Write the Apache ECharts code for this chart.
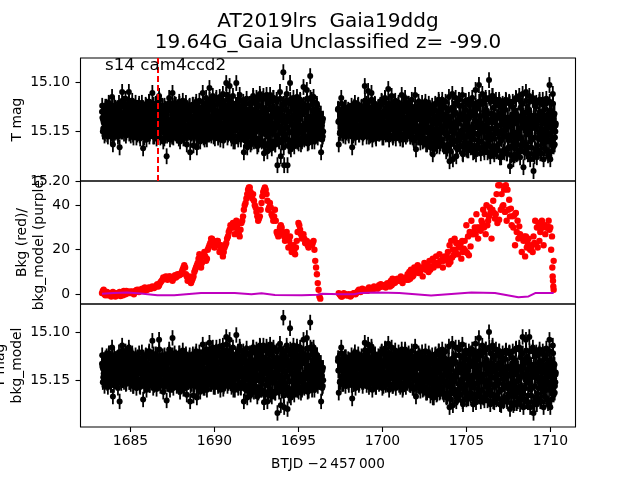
<!DOCTYPE html>
<html><head><meta charset="utf-8">
<style>html,body{margin:0;padding:0;background:#fff}#c{width:640px;height:480px}</style>
<script src="https://cdn.jsdelivr.net/npm/echarts@6/dist/echarts.min.js"></script>
</head><body><div id="c"></div>
<script>
// cadence of the light curves (days)
const orbit1Start = 1683.3, orbit2Start = 1697.35, magStep = 0.05;
// T mag, thousandths above 15
const tmag1 = [130,150,141,154,125,147,135,155,121,143,133,152,115,163,130,142,126,148,136,155,128,166,141,150,110,147,124,136,117,151,130,142,110,149,124,137,119,153,131,143,121,156,135,146,124,154,133,147,126,167,140,153,123,158,135,147,120,152,132,142,111,155,128,141,122,157,134,146,114,150,127,139,124,160,136,148,127,175,138,151,116,158,129,143,111,156,126,140,123,154,134,146,120,160,131,149,124,157,137,147,121,163,133,150,125,171,138,152,123,164,136,149,126,166,140,154,119,160,132,146,111,156,127,141,116,158,130,144,106,152,122,137,114,155,128,142,118,150,130,141,122,158,135,147,112,154,127,141,101,148,118,133,104,151,121,138,114,147,127,139,101,146,118,133,113,155,127,142,123,171,136,153,128,166,140,154,122,163,134,150,114,160,128,146,116,165,130,148,112,158,125,142,117,172,132,153,113,170,128,150,120,163,134,148,116,160,130,146,118,184,135,160,110,175,128,152,90,184,122,158,112,184,130,165,101,168,122,150,116,165,130,148,120,160,133,146,118,163,132,150,105,158,124,142,108,162,126,146,94,155,118,138,115,160,131,146,122,156,135,146,134,171,144,155];
const tmag2 = [128,163,138,150,116,152,130,142,128,155,136,148,130,154,139,147,132,166,141,152,127,156,136,146,124,153,134,145,126,150,135,143,104,149,122,135,109,155,126,140,111,158,128,142,122,155,133,145,126,152,136,146,119,156,130,144,116,153,128,141,107,158,124,140,114,154,127,142,120,157,132,146,123,153,134,145,113,158,129,143,116,155,130,144,122,152,133,146,118,156,131,143,113,168,130,150,120,155,133,146,126,160,137,150,124,163,136,151,128,158,139,149,130,173,141,157,122,160,135,148,118,165,131,150,122,163,134,151,126,170,140,155,128,180,145,162,126,178,143,160,122,175,139,158,118,165,133,150,124,173,138,156,120,168,135,152,118,162,132,148,116,171,134,152,108,165,127,146,103,160,122,142,112,166,130,150,116,163,132,148,98,158,120,140,114,170,133,152,122,165,136,150,118,176,137,158,125,170,140,155,118,172,136,156,120,185,141,165,125,178,142,160,116,173,134,155,114,176,135,158,112,186,136,162,110,170,130,150,114,178,134,158,118,190,140,168,122,176,138,157,120,172,136,154,118,178,138,160,122,170,137,152,103,178,130,158,112,165,132,150];
// T mag minus bkg_model, thousandths above 15
const cmag1 = [133,152,143,156,128,150,137,157,124,146,135,155,116,167,132,145,128,151,138,158,130,172,143,153,114,150,127,139,120,153,132,145,116,152,127,140,122,156,134,146,124,158,137,149,127,156,136,150,128,170,142,155,125,160,138,150,122,155,135,145,109,158,130,143,124,159,136,148,108,153,129,142,126,162,139,150,129,171,141,153,118,160,132,146,106,158,128,143,126,156,137,148,122,162,134,151,126,159,139,149,123,165,135,152,127,172,140,154,125,166,138,151,128,168,142,156,121,162,134,148,113,158,129,143,118,160,132,146,111,154,125,139,116,157,130,144,120,152,132,143,124,160,137,149,114,156,129,143,105,150,120,135,108,153,123,140,116,149,129,141,103,148,120,135,115,157,129,144,125,172,138,155,130,168,142,156,124,165,136,152,116,162,130,148,118,167,132,150,114,160,127,144,119,173,134,155,115,172,130,152,122,165,136,150,118,162,132,148,120,184,137,162,112,176,130,154,85,178,124,160,114,180,132,166,96,168,124,151,114,165,130,148,118,160,131,146,116,163,130,150,108,158,124,142,106,162,126,146,90,155,118,138,116,160,131,146,124,156,135,146,136,172,145,156];
const cmag2 = [130,163,140,152,116,154,132,144,130,156,138,150,132,155,141,149,134,169,143,154,129,158,138,148,126,155,136,147,128,152,137,145,111,151,124,137,113,157,128,142,115,160,130,144,124,157,135,147,128,154,138,148,121,158,132,146,118,155,130,143,112,160,126,142,116,156,129,144,122,158,134,148,125,155,136,147,118,160,131,145,118,157,132,146,124,154,135,148,120,158,133,145,115,167,132,152,122,157,135,148,128,160,139,151,126,163,138,152,130,160,141,150,132,168,143,157,124,160,137,150,120,163,133,151,124,162,136,152,128,167,142,156,130,178,147,164,128,176,145,162,124,172,141,160,116,165,135,152,126,175,140,158,122,170,137,154,120,164,134,150,118,175,136,154,112,167,129,148,106,162,124,144,114,168,132,152,118,165,134,150,100,160,122,142,116,172,135,154,124,166,138,152,120,175,139,160,127,172,142,157,120,170,138,158,122,180,143,164,127,176,144,160,118,174,136,157,116,175,137,160,105,178,132,158,108,172,130,152,105,178,134,158,120,184,142,168,124,175,140,158,122,172,138,155,120,178,140,160,124,170,139,154,108,178,132,158,114,165,134,152];
// further samples inside the dense body of the curve, half a step later, both magnitude panels
const bodyMag1 = [136,147,129,152,141,125,149,133,144,127,155,138,131,146,124,151,135,143,128,153,139,126,148,134,150,122,142,130,154,137,145,127,152,132,147,124,140,156,129,144,135,151,126,143,133,157,140,121,149,130,146,138,153,125,142,134,155,128,147,136,150,123,144,131,152,139,127,148,135,156,129,143,137,151,124,146,133,154,128,141,149,126,138,155,131,145,122,152,136,143,129,157,134,147,125,141,150,132,144,127,153,138,130,148,124,156,135,142,128,151,139,123,146,133,158,129,144,137,152,126,141,149,131,155,122,145,136,153,128,142,150,125,147,134,157,130,143,138,154,121,148,132,145,127,159,136,151,124,141,156,129,147,134,153,126,143,160,131,149,123,138,155,128,146,135,158,125,142,152,130,148,122,144,161,133,150,127,141,156,120,137,153,129,147,135,162,124,145,158,131,151,126,140,164,128,149,133,155,122,143,160,136,152,125,147,130,163,138,154,127,145,159,132,150,123,141,166,135,153,128,146,158,130,151,121,143,162,134,155,126,148,138,160,129,152,124,144,157,133,150,127,142,155,131,148,124,140,153,135,146,129,151,133,144,138,149,128,146,135,152,132,147,140,150];
const bodyMag2 = [140,128,151,134,146,131,154,137,143,126,149,135,152,129,145,138,155,132,147,125,142,150,133,146,127,153,136,144,130,156,139,124,148,134,151,128,143,137,154,131,146,126,150,140,133,157,129,145,136,152,123,147,138,155,130,142,149,127,144,134,153,132,148,125,140,156,135,146,129,151,137,143,126,154,133,147,131,158,139,124,149,136,153,128,144,141,155,130,147,134,159,127,150,138,145,132,156,125,148,135,152,140,129,157,143,133,160,137,151,126,146,154,131,162,139,128,149,165,135,155,142,130,158,147,125,163,138,152,133,168,144,129,156,140,170,135,150,127,160,146,131,166,141,154,124,158,137,149,172,133,145,161,128,155,142,169,136,151,122,164,147,130,158,139,173,126,153,143,167,134,149,160,120,145,171,137,156,129,163,141,152,175,132,147,165,126,157,140,170,135,150,124,162,144,176,130,154,139,168,128,148,172,136,159,122,145,166,133,155,142,174,129,151,163,138,147,169,126,157,135,161,144,171,131,153,140,166,128,150,160,137,146,173,134,156,125,143,164,139,152,130,158,147,136,162,128,151,141,155,133,146,160,129,152,138,164,134,148,156,142];
// samples that fill out the upper and lower edges of the body, quarter of a step later
const edgeMag1 = [124,138,150,133,127,142,153,136,122,131,148,140,126,144,155,134,128,137,151,141,121,133,149,145,119,139,152,130,123,143,147,136,120,134,154,141,125,146,150,132,127,138,153,143,122,135,149,129,129,141,156,137,124,132,151,145,120,140,148,134,126,143,155,136,123,131,152,139,118,144,150,135,125,137,157,142,128,133,148,146,121,140,153,130,124,136,151,143,127,145,154,134,122,139,149,131,119,142,156,137,125,133,152,144,129,138,150,140,123,146,155,132,120,135,148,141,126,143,153,137,121,130,158,145,124,139,151,134,118,144,154,136,122,132,149,140,116,137,156,143,115,141,152,130,119,135,150,145,113,133,153,139,120,146,157,136,127,142,160,131,125,137,158,144,118,134,152,140,120,146,159,133,117,138,155,143,122,131,161,147,116,141,157,135,121,145,163,138,115,136,160,148,114,143,165,131,118,139,162,146,113,135,167,142,116,148,163,133,120,140,158,145,117,132,161,137,122,147,156,141,119,134,164,139,118,137,159,143,121,146,157,133,115,140,162,135,119,131,160,148,123,144,156,138,117,136,161,142,116,144,160,136,120,133,155,142,124,138,152,146,132,141,158,137];
const edgeMag2 = [127,140,152,134,122,137,149,143,126,133,151,139,128,145,148,131,124,141,154,136,121,132,150,144,123,138,147,135,125,143,152,130,119,136,155,142,120,131,150,146,118,139,153,134,123,144,149,137,125,133,151,141,120,147,156,132,117,135,152,143,122,140,148,137,124,131,154,145,119,138,150,134,121,143,157,140,123,136,153,130,120,146,151,142,122,133,155,138,125,141,158,135,127,147,156,132,124,137,161,143,121,134,159,148,120,145,163,139,122,131,166,152,124,142,168,136,123,148,164,133,120,138,162,150,118,135,165,144,120,152,167,137,115,141,163,147,112,133,160,150,116,146,168,139,118,137,165,153,113,149,162,135,119,142,169,145,123,131,166,154,121,147,170,138,124,140,164,152,120,135,172,146,122,150,168,133,118,143,171,139,116,155,166,137,114,136,173,148,118,144,169,152,120,133,175,141,122,149,171,137,119,146,168,154,121,138,174,143,120,151,167,134,117,141,172,150,118,147,165,136,122,134,170,149,119,145,173,138,120,152,166,142,116,136,175,147,121,143,169,133,118,150,172,140,123,137,167,153,117,146,174,135,120,141,170,148,122,133,163,144];
const magError = 0.008;
// background flux, one point every 0.1 day, two interleaved sets
const bkgStep = 0.1, bkg1Start = 1683.3, bkg2Start = 1697.4, bkgFill1Start = 1683.35, bkgFill2Start = 1697.45;
const bkg1 = [0.5,2,-0.5,1,0,-0.5,0.5,0,-1,0.5,0,-0.8,1,1.5,0,1,0.5,0.5,1.2,0,1.5,2,1,1.8,2.5,1.5,2.5,2,3,2.5,3.5,2.8,3.5,4.5,4,5.5,6.5,7,8,6.5,8,7,6,8,7.5,9,8.5,9,11,13,9,6,8,5,7,10,12,14,18,12,17,19,15,20,22,25,24,21,23,24,19,22,17,21,23,26,29,30,32,27,33,28,26,32,35,40,43,47,48,44,45,40,37,33,35,41,46,48,45,38,41,36,33,38,28,26,30,30,27,24,28,21,26,19,22,18,24,32,29,25,27,23,24,21,23,22,24,15,9,2,-2];
const bkg2 = [0.5,-0.5,-1,0.5,0,-0.5,0,-1,0,0.5,0,1,2,1,2.5,1.5,2,1.5,3,2.5,2,3.5,3,2.5,4,4.5,3.5,4,3,5,4.5,6,7,5.5,6.5,7,6,8,5,7,7.5,9,10,11,8,12,11,13,10,12,8,14,11,13,15,12,16,14,17,13,18,15,12,17,16,19,22,24,20,25,23,18,21,16,19,24,31,26,28,33,27,30,36,25,29,33,38,36,40,33,39,25,42,34,45,49,49,45,40,37,33,38,35,31,30,22,28,25,27,19,24,17,21,25,20,22,26,33,30,32,28,33,22,27,30,33,30,26,15];
const bkgFill1 = [1.5,0,1,-0.5,0.5,-1,1,0.5,-0.5,0,1,0.5,-0.5,0.8,1.5,0.5,1.2,1,0.5,1,1.8,1.2,2,1.5,2.2,3,2,2.8,2.5,3,3,3.2,4,3.5,5,6,7.5,7,7.8,7,8,7,7,8.5,8,8.5,9,10,12,12,8,7,6,6,8,11,13,16,15,14,18,17,16,21,23,25,23,22,24,22,20,20,19,22,25,28,31,31,30,30,31,27,29,33,38,41,45,48,46,43,42,39,35,34,38,44,47,47,42,39,39,35,35,33,27,28,31,28,26,26,25,24,22,21,20,21,28,31,27,26,25,23,22,22,23,23,20,12,5,-1];
const bkgFill2 = [0,-1,0,0,-0.5,-0.5,-0.5,-0.5,0.2,0.5,0.5,1.5,1.5,1.8,2,1.8,1.8,2.2,2.8,2.2,2.2,2.8,3.2,2.8,3.2,4.2,3.8,3.5,4.5,4,3.5,4,4.8,5.2,6.5,6.2,6,6.8,6.5,7,6.5,6.5,7,8,8.5,10,10.5,9.5,10,11.5,12,11.5,11,10,11,12.5,12,14,13.5,14,15,15.5,15,15.5,16.5,13.5,14.5,16.5,17.5,20,23,22,22.5,24,20.5,19.5,18.5,17.5,21.5,27,28,27,30,30,28.5,32,30,27,31,35,37,38,36.5,36,32,33.5,38,39.5,47,49,47,42.5,38.5,35,35.5,36.5,33,30.5,26,25,26,26,23,21.5,20.5,19,23,22.5,21,24,29.5,31.5,31,30,30.5,29,20];
const bkgTail = [[1710.12,12],[1710.14,8],[1710.16,6],[1710.18,3.5],[1710.2,2]];
// bkg_model knots [BTJD, value]
const modelCurve = [[1683.3,0.2],[1684,0.5],[1684.8,0.8],[1685.6,0.3],[1686.6,-0.5],[1687.6,-0.5],[1689.2,0.5],[1691.2,0.5],[1692.2,0],[1692.8,0.4],[1693.6,-0.4],[1695.2,-0.5],[1696.2,-0.2],[1696.4,0.2],[1697.5,0],[1698.3,0],[1698.7,0.6],[1699.7,0.8],[1701,0.6],[1702.9,-0.6],[1703.5,-0.2],[1705.3,0.8],[1706.7,0.5],[1708.1,-1.4],[1708.7,-1],[1709.1,0.5],[1710.2,0.5]];
const xTicks = [1685,1690,1695,1700,1705,1710];
const topTicks = [15.10,15.15,15.20], midTicks = [0,20,40], botTicks = [15.10,15.15];
const markerDate = 1686.6;
const title = "AT2019lrs  Gaia19ddg\n19.64G_Gaia Unclassified z= -99.0";
const tag = "s14 cam4ccd2";

const FONT = "DejaVu Sans", TXT = "#000";
function pts(arr, start, step, conv){ return arr.map((v,i)=>[+(start+i*step).toFixed(4), conv?conv(v):v]); }
const milli = v => 15 + v/1000;
const body = pts(bodyMag1,orbit1Start+magStep/2,magStep,milli).concat(pts(bodyMag2,orbit2Start+magStep/2,magStep,milli)).concat(pts(edgeMag1,orbit1Start+magStep/4,magStep,milli)).concat(pts(edgeMag2,orbit2Start+magStep/4,magStep,milli));
const topData = pts(tmag1,orbit1Start,magStep,milli).concat(pts(tmag2,orbit2Start,magStep,milli)).concat(body);
const botData = pts(cmag1,orbit1Start,magStep,milli).concat(pts(cmag2,orbit2Start,magStep,milli)).concat(body);
const bkgData = pts(bkg1,bkg1Start,bkgStep).concat(pts(bkg2,bkg2Start,bkgStep)).concat(pts(bkgFill1,bkgFill1Start,bkgStep)).concat(pts(bkgFill2,bkgFill2Start,bkgStep)).concat(bkgTail);

function errRender(params, api){
  const x = api.value(0), y = api.value(1);
  const a = api.coord([x, y-magError]), b = api.coord([x, y+magError]);
  return {type:'line', shape:{x1:a[0],y1:a[1],x2:b[0],y2:b[1]}, style:{stroke:'#000',lineWidth:1.8}, silent:true};
}
const gridBase = {left:80.5, width:495, height:123, show:true, borderColor:'#000', borderWidth:1.1, backgroundColor:'transparent', containLabel:false, outerBoundsMode:'none'};
function xAx(i, labels){
  return {type:'value', gridIndex:i, min:1682.02, max:1711.5, splitLine:{show:false}, axisLine:{show:false},
    axisTick:{show:labels, customValues:xTicks, length:5, lineStyle:{color:'#000',width:1.1}},
    axisLabel:{show:labels, customValues:xTicks, margin:7, color:TXT, fontFamily:FONT, fontSize:13.9, formatter:v=>String(v)},
    name:labels?"BTJD \u22122\u2009457\u2009000":"", nameLocation:'middle', nameGap:30, nameMoveOverlap:false,
    nameTextStyle:{color:TXT,fontFamily:FONT,fontSize:13.6}};
}
function yAx(i, o){
  return {type:'value', gridIndex:i, min:o.min, max:o.max, inverse:o.inv, splitLine:{show:false}, axisLine:{show:false},
    axisTick:{show:true, customValues:o.ticks, length:5, lineStyle:{color:'#000',width:1.1}},
    axisLabel:{show:true, customValues:o.ticks, margin:10.5, color:TXT, fontFamily:FONT, fontSize:13.9, showMinLabel:true, showMaxLabel:true, formatter:o.fmt},
    name:o.name, nameLocation:'middle', nameGap:o.gap, nameRotate:90, nameMoveOverlap:false,
    nameTextStyle:{color:TXT,fontFamily:FONT,fontSize:13.9,lineHeight:16.5}};
}
const f2 = v=>v.toFixed(2), f0 = v=>String(v);
const chart = echarts.init(document.getElementById('c'),null,{renderer:'canvas'});
const solidBlack = {color:'#000',opacity:1}, solidRed = {color:'#f00',opacity:1};
chart.setOption({
  animation:false, backgroundColor:'#fff',
  title:{text:title,left:323,top:6,textAlign:'center',textStyle:{color:TXT,fontFamily:FONT,fontSize:20,fontWeight:'normal',lineHeight:21.5}},
  grid:[Object.assign({top:58},gridBase),Object.assign({top:181},gridBase),Object.assign({top:304},gridBase)],
  xAxis:[xAx(0,false),xAx(1,false),xAx(2,true)],
  yAxis:[
    yAx(0,{min:15.0757,max:15.2,inv:true,ticks:topTicks,fmt:f2,name:"T mag",gap:55}),
    yAx(1,{min:-4.4,max:50.9,inv:false,ticks:midTicks,fmt:f0,name:"Bkg (red)/\nbkg_model (purple)",gap:33}),
    yAx(2,{min:15.0708,max:15.1986,inv:true,ticks:botTicks,fmt:f2,name:"T mag\nbkg_model",gap:55})
  ],
  series:[
    {type:'line',xAxisIndex:0,yAxisIndex:0,data:[],z:1,silent:true,
     markLine:{silent:true,symbol:'none',animation:false,label:{show:false},
       lineStyle:{color:'#f00',type:[6,3],width:2},data:[{xAxis:markerDate}]}},
    {type:'custom',xAxisIndex:0,yAxisIndex:0,data:topData,renderItem:errRender,z:3,clip:true},
    {type:'scatter',xAxisIndex:0,yAxisIndex:0,data:topData,symbolSize:6,itemStyle:solidBlack,z:4,silent:true},
    {type:'scatter',xAxisIndex:1,yAxisIndex:1,data:bkgData,symbolSize:6.4,itemStyle:solidRed,z:3,silent:true},
    {type:'line',xAxisIndex:1,yAxisIndex:1,data:modelCurve,showSymbol:false,lineStyle:{color:'#bf00bf',width:2},z:4,silent:true},
    {type:'custom',xAxisIndex:2,yAxisIndex:2,data:botData,renderItem:errRender,z:3,clip:true},
    {type:'scatter',xAxisIndex:2,yAxisIndex:2,data:botData,symbolSize:6,itemStyle:solidBlack,z:4,silent:true}
  ],
  graphic:[{type:'text',left:105,top:57,z:10,style:{text:tag,fill:TXT,font:'16.7px "DejaVu Sans"'}}]
});
</script></body></html>
